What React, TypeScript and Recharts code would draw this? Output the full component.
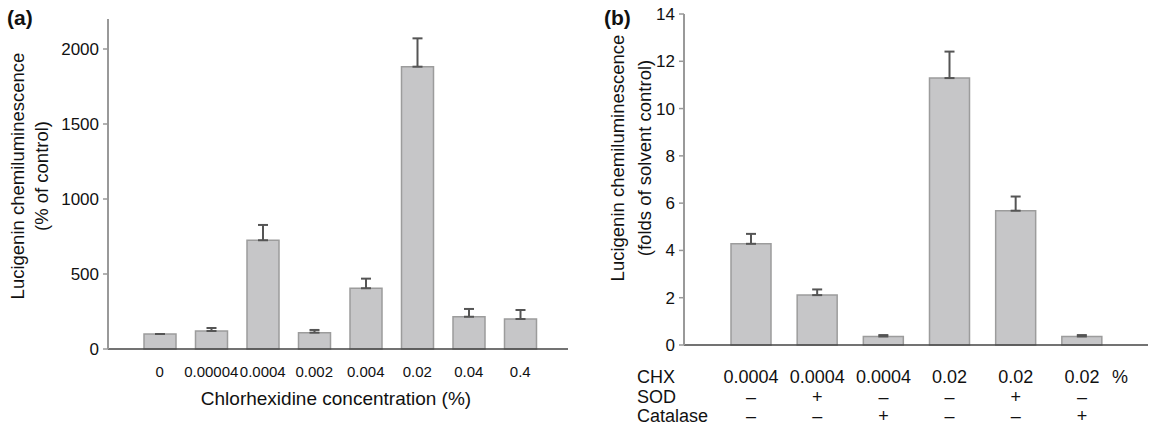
import React from 'react';
import { BarChart, Bar, XAxis, YAxis, ErrorBar } from 'recharts';

const FONT = '"Liberation Sans", Arial, Helvetica, sans-serif';

// Panel (a)
const concLabels = ['0', '0.00004', '0.0004', '0.002', '0.004', '0.02', '0.04', '0.4'];
const valuesA = [100, 120, 725, 109, 405, 1882, 215, 200];
const errA = [0, 20, 102, 18, 64, 189, 52, 60];
const ticksA = [0, 500, 1000, 1500, 2000];

// Panel (b)
const chxLabels = ['0.0004', '0.0004', '0.0004', '0.02', '0.02', '0.02'];
const sodLabels = ['–', '+', '–', '–', '+', '–'];
const catalaseLabels = ['–', '–', '+', '–', '–', '+'];
const valuesB = [4.28, 2.11, 0.36, 11.29, 5.68, 0.36];
const errB = [0.42, 0.24, 0.06, 1.12, 0.6, 0.06];
const ticksB = [0, 2, 4, 6, 8, 10, 12, 14];

const dataA = concLabels.map((c, i) => ({ name: c, value: valuesA[i], err: [0, errA[i]] }));
const dataB = chxLabels.map((c, i) => ({
  name: String(i),
  chx: c,
  sod: sodLabels[i],
  cat: catalaseLabels[i],
  value: valuesB[i],
  err: [0, errB[i]],
}));

const BAR_FILL = '#c6c6c8';
const BAR_STROKE = '#9c9c9c';

const TickA = (props: any) => {
  const { x, y, payload } = props;
  return (
    <text x={x} y={y + 28} textAnchor="middle" fontSize={15} fill="#111" fontFamily={FONT}>
      {payload.value}
    </text>
  );
};

const TickB = (props: any) => {
  const { x, y, index } = props;
  const d = dataB[index];
  if (!d) return null;
  return (
    <g fontFamily={FONT} fontSize={18} fill="#111">
      <text x={x} y={y + 38} textAnchor="middle">{d.chx}</text>
      <text x={x} y={y + 58} textAnchor="middle">{d.sod}</text>
      <text x={x} y={y + 77} textAnchor="middle">{d.cat}</text>
      {index === dataB.length - 1 ? (
        <text x={x + 30} y={y + 38} textAnchor="start">%</text>
      ) : null}
    </g>
  );
};

export default function App() {
  return (
    <div style={{ position: 'fixed', left: 0, top: 0, width: 1149, height: 429, background: '#fff', fontFamily: FONT }}>
      <div style={{ position: 'absolute', left: 0, top: 0 }}>
        <BarChart
          width={580}
          height={429}
          data={dataA}
          margin={{ top: 19, right: 12, bottom: 50, left: 48 }}
          barSize={32}
        >
          <XAxis
            dataKey="name"
            interval={0}
            tickLine={false}
            tickSize={0}
            tickMargin={0}
            height={30}
            padding={{ left: 26, right: 22 }}
            axisLine={{ stroke: '#444', strokeWidth: 1.5 }}
            tick={<TickA />}
          />
          <YAxis
            width={60}
            domain={[0, 2200]}
            ticks={ticksA}
            interval={0}
            tickSize={5}
            tickMargin={4}
            axisLine={{ stroke: '#999', strokeWidth: 2 }}
            tickLine={{ stroke: '#999', strokeWidth: 1.5 }}
            tick={{ fontSize: 17, fill: '#111', fontFamily: FONT }}
          />
          <Bar dataKey="value" fill={BAR_FILL} stroke={BAR_STROKE} strokeWidth={1.5} isAnimationActive={false}>
            <ErrorBar dataKey="err" width={5} stroke="#555" strokeWidth={2} isAnimationActive={false} />
          </Bar>
        </BarChart>
      </div>
      <div style={{ position: 'absolute', left: 560, top: 0 }}>
        <BarChart
          width={589}
          height={429}
          data={dataB}
          margin={{ top: 14, right: 1, bottom: 54, left: 64 }}
          barSize={40}
        >
          <XAxis
            dataKey="name"
            interval={0}
            tickLine={false}
            tickSize={0}
            tickMargin={0}
            height={30}
            padding={{ left: 34, right: 33 }}
            axisLine={{ stroke: '#444', strokeWidth: 1.5 }}
            tick={<TickB />}
          />
          <YAxis
            width={60}
            domain={[0, 14]}
            ticks={ticksB}
            interval={0}
            tickSize={5}
            tickMargin={4}
            axisLine={{ stroke: '#999', strokeWidth: 2 }}
            tickLine={{ stroke: '#999', strokeWidth: 1.5 }}
            tick={{ fontSize: 17, fill: '#111', fontFamily: FONT }}
          />
          <Bar dataKey="value" fill={BAR_FILL} stroke={BAR_STROKE} strokeWidth={1.5} isAnimationActive={false}>
            <ErrorBar dataKey="err" width={5} stroke="#555" strokeWidth={2} isAnimationActive={false} />
          </Bar>
        </BarChart>
      </div>
      <svg
        width={1149}
        height={429}
        style={{ position: 'absolute', left: 0, top: 0, pointerEvents: 'none' }}
        fontFamily={FONT}
        fill="#111"
      >
        <text x={7} y={25} fontSize={21} fontWeight="bold">(a)</text>
        <text x={604} y={25} fontSize={21} fontWeight="bold">(b)</text>
        <g transform="translate(24,176) rotate(-90)">
          <text x={0} y={0} textAnchor="middle" fontSize={18.5}>Lucigenin chemiluminescence</text>
          <text x={0} y={24} textAnchor="middle" fontSize={18.5}>(% of control)</text>
        </g>
        <text x={336} y={405} textAnchor="middle" fontSize={19}>Chlorhexidine concentration (%)</text>
        <g transform="translate(624,158) rotate(-90)">
          <text x={0} y={0} textAnchor="middle" fontSize={18.5}>Lucigenin chemiluminescence</text>
          <text x={0} y={27} textAnchor="middle" fontSize={18.5}>(folds of solvent control)</text>
        </g>
        <text x={637} y={383} fontSize={18}>CHX</text>
        <text x={637} y={403} fontSize={18}>SOD</text>
        <text x={637} y={422} fontSize={18}>Catalase</text>
      </svg>
    </div>
  );
}
